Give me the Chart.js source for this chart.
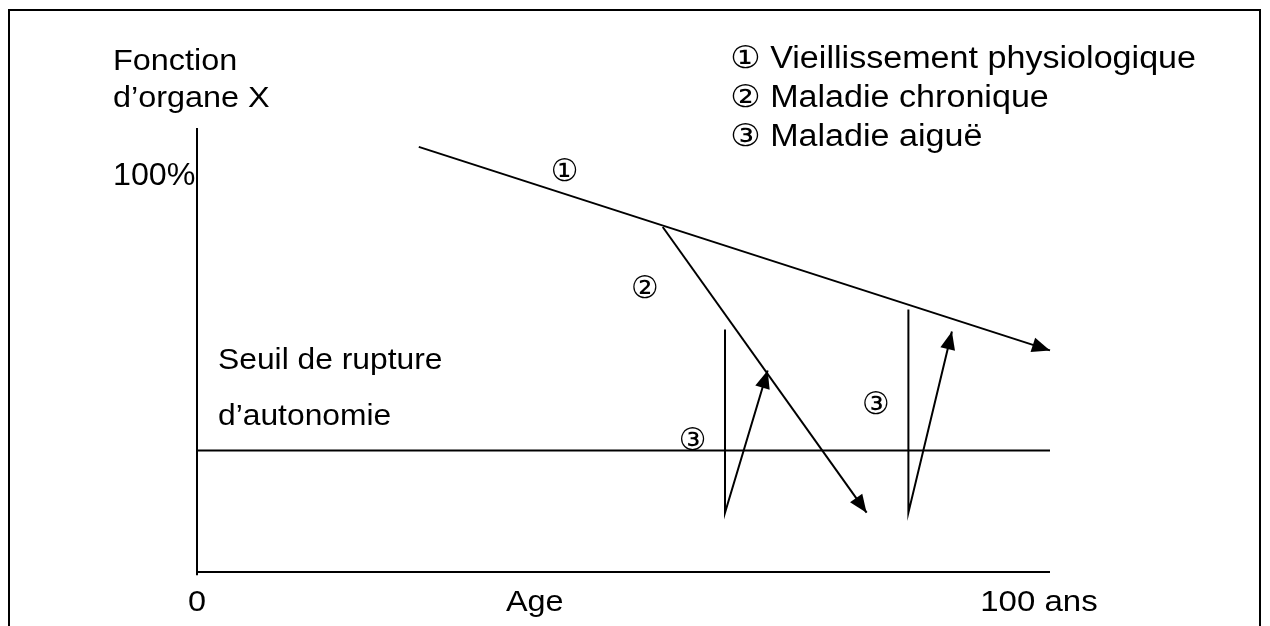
<!DOCTYPE html>
<html lang="fr">
<head>
<meta charset="utf-8">
<title>Fonction d'organe X</title>
<script src="https://cdn.jsdelivr.net/npm/chart.js@4.4.1/dist/chart.umd.min.js"></script>
<style>
  html, body { margin: 0; padding: 0; background: #fff; overflow: hidden; }
  #frame { position: absolute; left: 8px; top: 9px; width: 1249px; height: 700px; border: 2px solid #000; }
  #wrap { position: absolute; left: 0; top: 0; width: 1270px; height: 626px; }
</style>
</head>
<body>
<div id="frame"></div>
<div id="wrap"><canvas id="chartCanvas" width="1270" height="626"></canvas></div>
<script>
// axes : age de 0 a 100 ans, fonction en % (axe monte un peu au-dessus de 100%)
const ageRange = [0, 100];
const fonctionRange = [0, 113];

const seuilFonction = 30.9;

// 1 - vieillissement physiologique
const physioAge = [26, 100];
const physioFonction = [108.2, 56.4];

// 2 - maladie chronique
const chroniqueAge = [54.6, 78.5];
const chroniqueFonction = [87.8, 15.1];

// 3 - maladies aigues (chute brutale puis recuperation)
const aigue1Age = [61.9, 61.9, 66.9];
const aigue1Fonction = [61.7, 15.1, 51.3];
const aigue2Age = [83.4, 83.4, 88.5];
const aigue2Fonction = [66.8, 15.1, 61.2];

const xTickLabels = ["0", "Age", "100 ans"];
const yTickLabels = ["100%"];
const legendLabels = ["\u2460 Vieillissement physiologique", "\u2461 Maladie chronique", "\u2462 Maladie aigu\u00eb"];

const FONT = "'Liberation Sans', Arial, 'DejaVu Sans', sans-serif";

const toPoints = (xs, ys) => xs.map((x, i) => ({ x: x, y: ys[i] }));

const lineSet = (label, xs, ys, arrow) => ({
    label: label,
    data: toPoints(xs, ys),
    borderColor: "#000",
    borderWidth: 2,
    pointRadius: 0,
    fill: false,
    tension: 0,
    clip: false,
    arrow: arrow
});

// textes places en coordonnees des axes (sx = etirement horizontal du texte)
const texts = [
    { t: "Fonction", x: -9.85, y: 127.8, align: "left", size: 30, sx: 1.08 },
    { t: "d\u2019organe X", x: -9.85, y: 118.3, align: "left", size: 30, sx: 1.08 },
    { t: yTickLabels[0], x: -9.85, y: 98.5, align: "left", size: 31, sx: 1.04 },
    { t: "Seuil de rupture", x: 2.46, y: 51.7, align: "left", size: 30, sx: 1.06 },
    { t: "d\u2019autonomie", x: 2.46, y: 37.4, align: "left", size: 30, sx: 1.06 },
    { t: xTickLabels[0], x: 0, y: -9.9, align: "center", size: 30, sx: 1.08 },
    { t: xTickLabels[1], x: 39.6, y: -9.9, align: "center", size: 30, sx: 1.08 },
    { t: xTickLabels[2], x: 98.7, y: -9.9, align: "center", size: 30, sx: 1.1 },
    { t: legendLabels[0], x: 62.5, y: 128.3, align: "left", size: 31, sx: 1.1 },
    { t: legendLabels[1], x: 62.5, y: 118.3, align: "left", size: 31, sx: 1.1 },
    { t: legendLabels[2], x: 62.5, y: 108.4, align: "left", size: 31, sx: 1.1 },
    { t: "\u2460", x: 43.1, y: 101.6, align: "center", size: 31, sx: 1, mid: true },
    { t: "\u2461", x: 52.5, y: 71.8, align: "center", size: 31, sx: 1, mid: true },
    { t: "\u2462", x: 58.1, y: 33.1, align: "center", size: 31, sx: 1, mid: true },
    { t: "\u2462", x: 79.6, y: 42.5, align: "center", size: 31, sx: 1, mid: true }
];

const arrowHeads = {
    id: "arrowHeads",
    afterDatasetsDraw(chart) {
        const ctx = chart.ctx;
        chart.data.datasets.forEach((ds, i) => {
            if (!ds.arrow) return;
            const pts = chart.getDatasetMeta(i).data;
            const a = pts[pts.length - 2], b = pts[pts.length - 1];
            const ang = Math.atan2(b.y - a.y, b.x - a.x);
            const len = 18, half = 7.5;
            ctx.save();
            ctx.translate(b.x, b.y);
            ctx.rotate(ang);
            ctx.fillStyle = "#000";
            ctx.beginPath();
            ctx.moveTo(0, 0);
            ctx.lineTo(-len, -half);
            ctx.lineTo(-len, half);
            ctx.closePath();
            ctx.fill();
            ctx.restore();
        });
    }
};

const textLabels = {
    id: "textLabels",
    afterDraw(chart) {
        const ctx = chart.ctx;
        const xs = chart.scales.x, ys = chart.scales.y;
        texts.forEach(l => {
            ctx.save();
            ctx.fillStyle = "#000";
            ctx.font = l.size + "px " + FONT;
            ctx.textAlign = l.align;
            ctx.textBaseline = l.mid ? "middle" : "alphabetic";
            ctx.translate(xs.getPixelForValue(l.x), ys.getPixelForValue(l.y));
            ctx.scale(l.sx, 1);
            ctx.fillText(l.t, 0, 0);
            ctx.restore();
        });
    }
};

const chartCanvas = document.getElementById("chartCanvas");
const organChart = new Chart(chartCanvas, {
    type: "line",
    data: {
        datasets: [
            lineSet("axe Y", [0, 0], [-0.8, fonctionRange[1]], false),
            lineSet("axe X", ageRange, [0, 0], false),
            lineSet("Seuil", ageRange, [seuilFonction, seuilFonction], false),
            lineSet("Vieillissement physiologique", physioAge, physioFonction, true),
            lineSet("Maladie chronique", chroniqueAge, chroniqueFonction, true),
            lineSet("Maladie aigu\u00eb 1", aigue1Age, aigue1Fonction, true),
            lineSet("Maladie aigu\u00eb 2", aigue2Age, aigue2Fonction, true)
        ]
    },
    options: {
        responsive: false,
        animation: false,
        events: [],
        layout: {
            padding: { left: 197, right: 220, top: 128, bottom: 54 }
        },
        scales: {
            x: { type: "linear", min: ageRange[0], max: ageRange[1], display: false },
            y: { type: "linear", min: fonctionRange[0], max: fonctionRange[1], display: false }
        },
        plugins: {
            legend: { display: false },
            tooltip: { enabled: false }
        }
    },
    plugins: [arrowHeads, textLabels]
});
</script>
</body>
</html>
